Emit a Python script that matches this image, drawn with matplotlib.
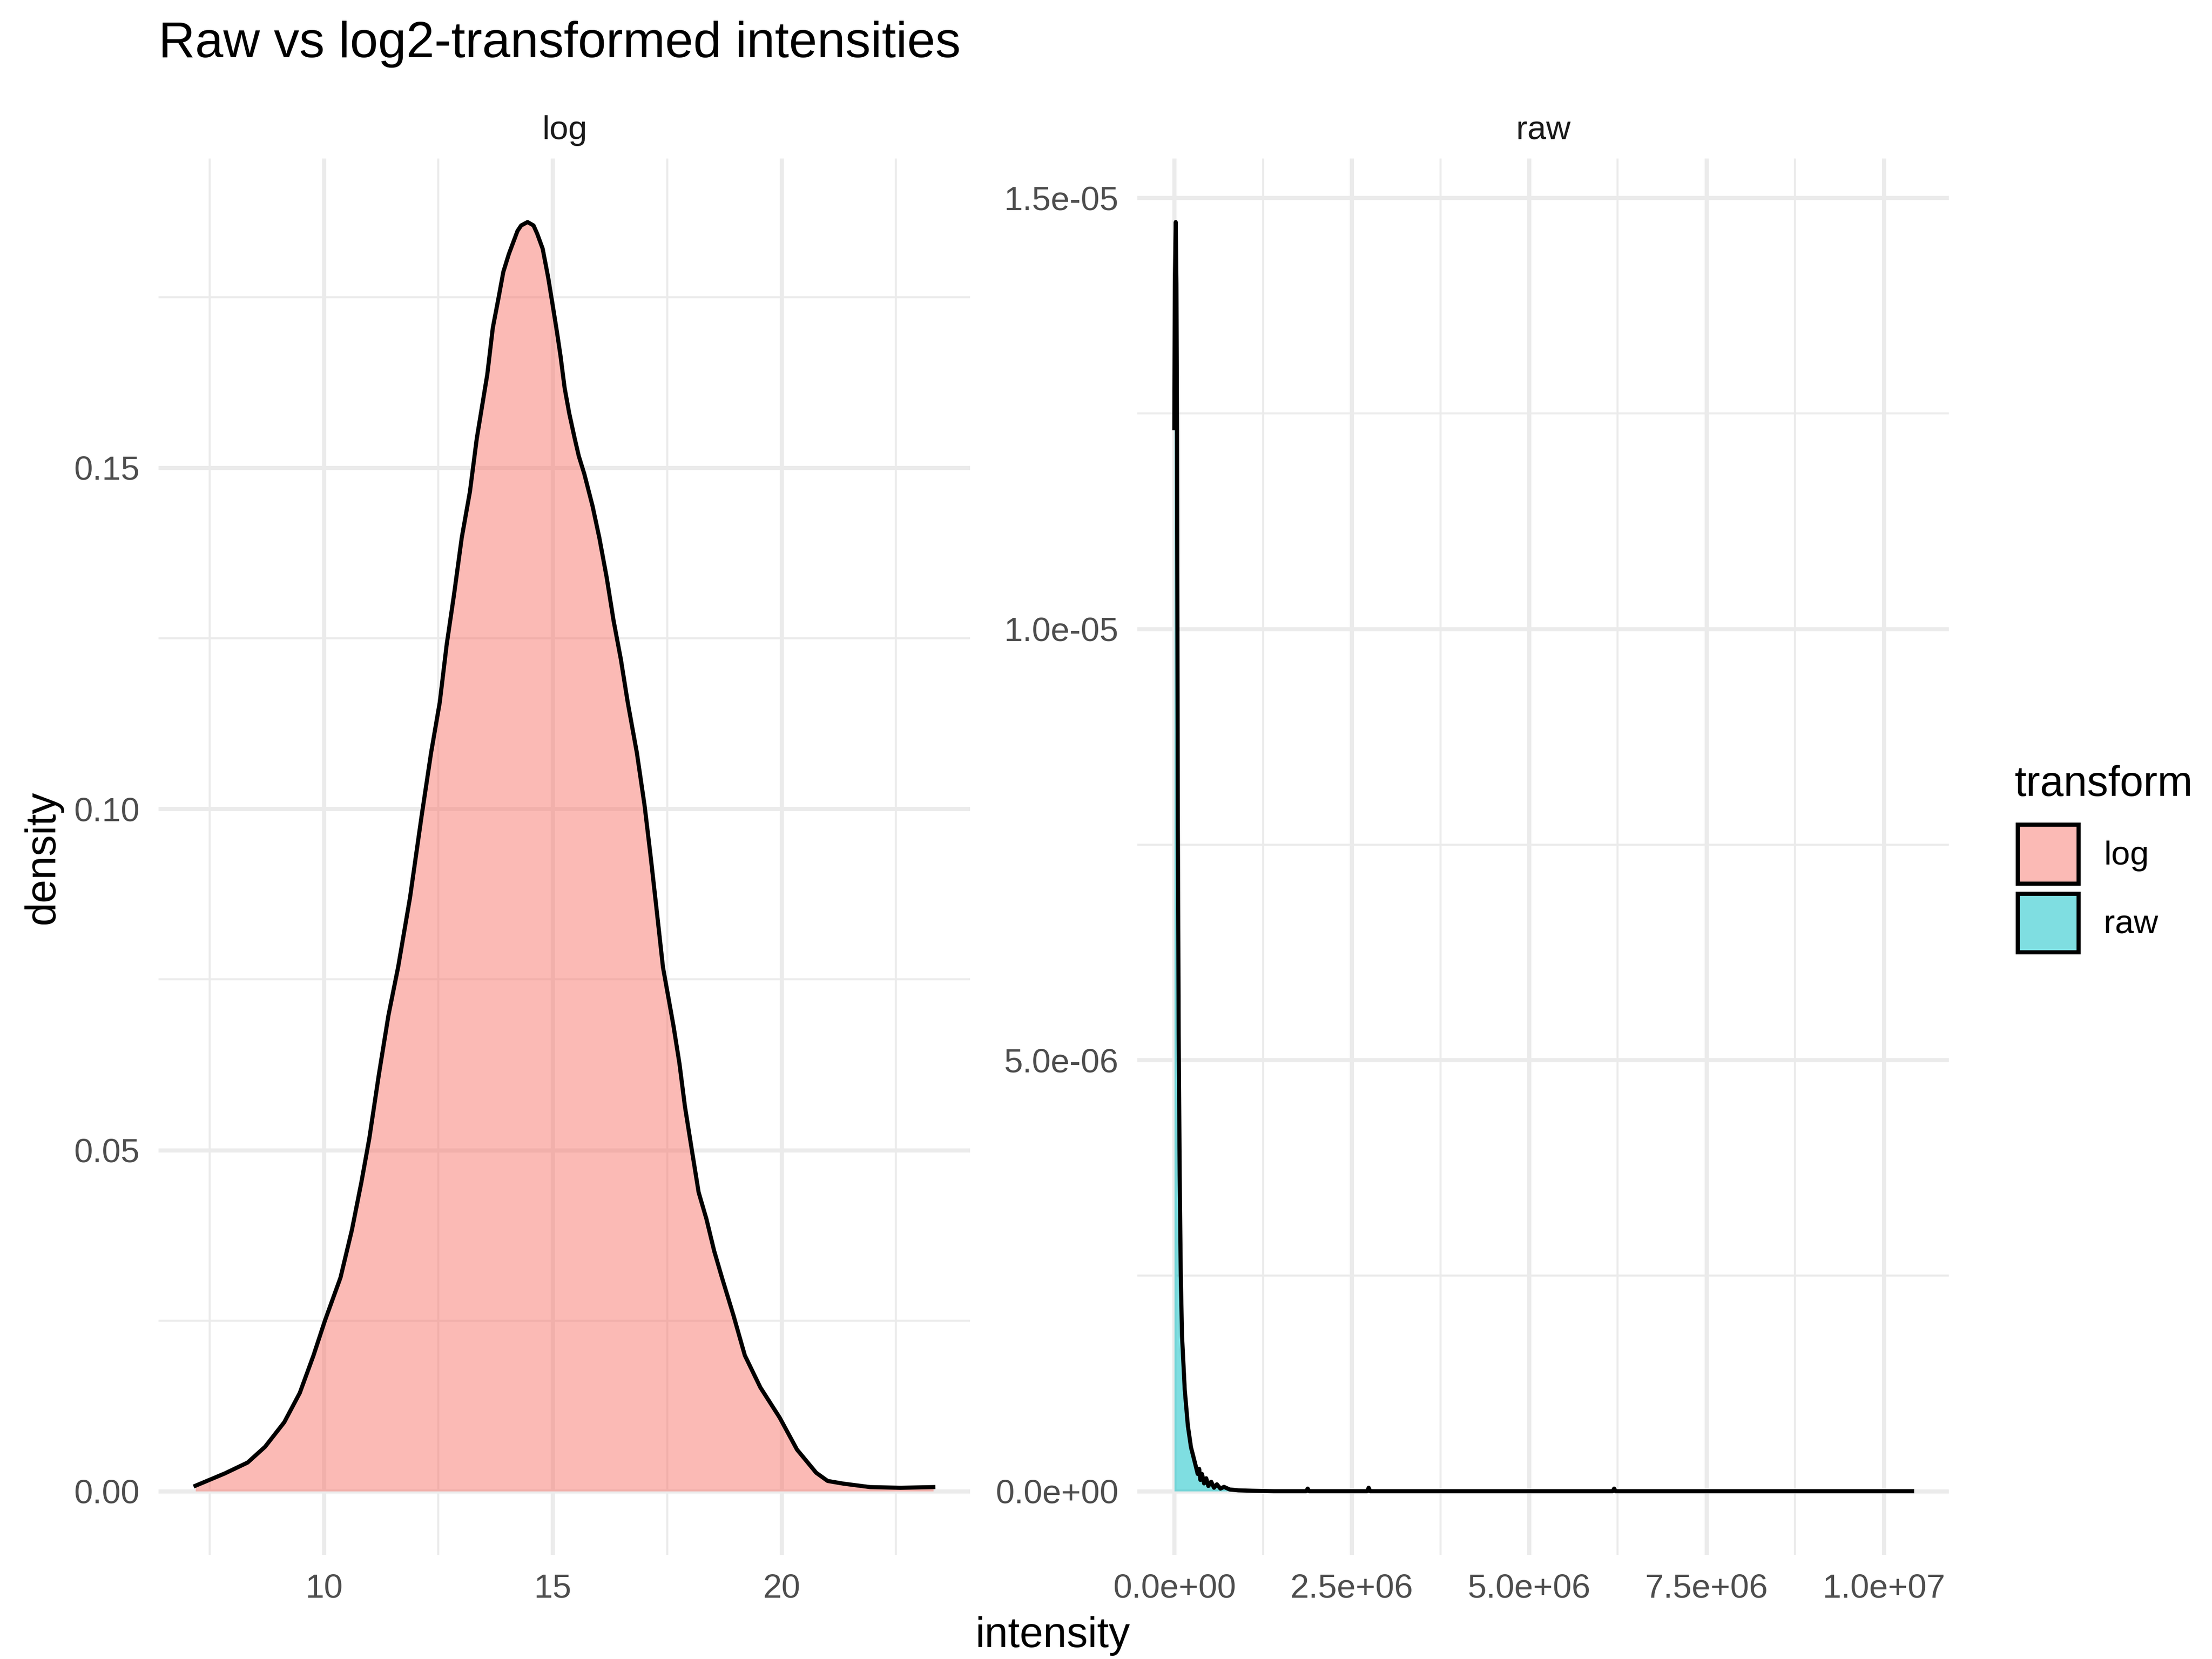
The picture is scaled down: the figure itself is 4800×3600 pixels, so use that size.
import matplotlib
matplotlib.use("Agg")
import matplotlib.pyplot as plt
from matplotlib.patches import Patch
from matplotlib.colors import to_rgba

# density of log2 intensities
log_x = [7.19, 7.83, 8.33, 8.71, 9.13, 9.47, 9.77, 10.02, 10.36, 10.61, 10.82, 10.99,
         11.20, 11.41, 11.62, 11.88, 12.13, 12.34, 12.53, 12.68, 12.84, 13.01, 13.19,
         13.34, 13.57, 13.69, 13.81, 13.92, 14.04, 14.23, 14.31, 14.45, 14.58, 14.66,
         14.78, 14.90, 14.99, 15.09, 15.17, 15.26, 15.36, 15.48, 15.57, 15.69, 15.87,
         16.02, 16.18, 16.33, 16.49, 16.64, 16.84, 17.01, 17.15, 17.28, 17.41, 17.64,
         17.77, 17.89, 18.02, 18.19, 18.36, 18.53, 18.70, 18.95, 19.20, 19.54, 19.96,
         20.34, 20.76, 21.01, 21.36, 21.94, 22.6, 23.32]
log_y = [0.0008, 0.0026, 0.0042, 0.0065, 0.0101, 0.0144, 0.0199, 0.0250, 0.0313, 0.0383,
         0.0454, 0.0517, 0.0611, 0.0698, 0.0768, 0.0870, 0.0988, 0.1082, 0.1156, 0.1240,
         0.1313, 0.1397, 0.1465, 0.1543, 0.1637, 0.1705, 0.1747, 0.1787, 0.1813, 0.1847,
         0.1855, 0.1860, 0.1855, 0.1843, 0.1821, 0.1779, 0.1742, 0.1700, 0.1664, 0.1617,
         0.1580, 0.1543, 0.1517, 0.1491, 0.1444, 0.1397, 0.1339, 0.1276, 0.1219, 0.1156,
         0.1082, 0.1004, 0.0925, 0.0847, 0.0768, 0.0682, 0.0627, 0.0564, 0.0509, 0.0438,
         0.0399, 0.0352, 0.0313, 0.0258, 0.0199, 0.0152, 0.0108, 0.0061, 0.0027, 0.0015,
         0.0011, 0.0006, 0.0005, 0.0006]

# density of raw intensities (right facet)
raw_x = [0, 8000, 20000, 30000, 38000, 44000, 50000, 62000, 76000, 91000, 109000, 147000,
         191000, 235000, 294000, 330000, 350000, 368000, 390000, 420000, 450000, 480000,
         520000, 560000, 600000, 650000, 700000, 780000, 900000, 1100000, 1400000,
         1860000, 1880000, 1900000, 2720000, 2740000, 2760000, 6180000, 6200000, 6220000,
         10400000]
raw_y = [1.233e-5, 1.40e-5, 1.472e-5, 1.40e-5, 1.233e-5, 1.0e-5, 7.7e-6, 5.3e-6, 3.66e-6,
         2.52e-6, 1.8e-6, 1.18e-6, 7.6e-7, 5.1e-7, 3.2e-7, 2.0e-7, 2.6e-7, 1.3e-7, 2.0e-7,
         9e-8, 1.5e-7, 6e-8, 1.1e-7, 4e-8, 8e-8, 3e-8, 5e-8, 2e-8, 1e-8, 5e-9, 0,
         0, 3e-8, 0, 0, 4e-8, 0, 0, 3e-8, 0, 0]

panels = ['log', 'raw']
fills = {'log': '#F8766D', 'raw': '#00BFC4'}

log_xticks = [10, 15, 20]
log_xminor = [7.5, 12.5, 17.5, 22.5]
log_yticks = [0, 0.05, 0.10, 0.15]
log_yminor = [0.025, 0.075, 0.125, 0.175]
raw_xticks = [0, 2.5e6, 5e6, 7.5e6, 1e7]
raw_xminor = [1.25e6, 3.75e6, 6.25e6, 8.75e6]
raw_yticks = [0, 5e-6, 1e-5, 1.5e-5]
raw_yminor = [2.5e-6, 7.5e-6, 1.25e-5]

plt.rcParams['font.family'] = ['Liberation Sans', 'DejaVu Sans']

fig = plt.figure(figsize=(8, 6), dpi=600)
ax1 = fig.add_axes([0.0717, 0.0629, 0.3669, 0.8415])
ax2 = fig.add_axes([0.5142, 0.0629, 0.3669, 0.8415])

def expand(lo, hi, f=0.05):
    r = hi - lo
    return lo - f * r, hi + f * r

data = {'log': (log_x, log_y), 'raw': (raw_x, raw_y)}
ticks = {'log': (log_xticks, log_xminor, log_yticks, log_yminor,
                 lambda v: f'{v:g}', lambda v: f'{v:.2f}'),
         'raw': (raw_xticks, raw_xminor, raw_yticks, raw_yminor,
                 lambda v: f'{v:.1e}', lambda v: f'{v:.1e}')}

for ax, name in zip([ax1, ax2], panels):
    xs, ys = data[name]
    ax.fill_between(xs, ys, 0, color=fills[name], alpha=0.5, lw=0, zorder=2)
    ax.plot(xs, ys, color='black', lw=1.07, zorder=3, solid_joinstyle='round')
    ax.set_xlim(*expand(min(xs), max(xs)))
    ax.set_ylim(*expand(0, max(ys)))
    xt, xm, yt, ym, fx, fy = ticks[name]
    ax.set_xticks(xt)
    ax.set_xticklabels([fx(v) for v in xt])
    ax.set_xticks(xm, minor=True)
    ax.set_yticks(yt)
    ax.set_yticklabels([fy(v) for v in yt])
    ax.set_yticks(ym, minor=True)
    ax.grid(which='major', color='#EBEBEB', lw=1.07)
    ax.grid(which='minor', color='#EBEBEB', lw=0.53)
    ax.set_axisbelow(True)
    ax.tick_params(which='both', length=0, labelsize=8.8, labelcolor='#4D4D4D', pad=4.95)
    for s in ax.spines.values():
        s.set_visible(False)
    ax.set_title(name, fontsize=8.8, color='#1A1A1A', pad=5)

fig.text(0.0717, 1 - 40 / 1161, 'Raw vs log2\u2010transformed intensities',
         fontsize=13.2, ha='left', va='baseline')
fig.text(737 / 1548, 1 - 1145 / 1161, 'intensity', fontsize=11, ha='center', va='center')
fig.text(30 / 1548, 1 - 600 / 1161, 'density', fontsize=11, rotation=90,
         ha='center', va='center')

# legend: title placed separately so its gap to the keys matches
fig.text(1410 / 1548, 1 - 557 / 1161, 'transform', fontsize=11, ha='left', va='baseline')
handles = [Patch(facecolor=to_rgba(fills[n], 0.5), edgecolor='black', lw=1.07, label=n)
           for n in panels]
fig.legend(handles=handles, fontsize=8.8, frameon=False, handlelength=1.8,
           handleheight=2.3, labelspacing=0.3, handletextpad=0.75, borderpad=0,
           borderaxespad=0, loc='upper left', bbox_to_anchor=(1412 / 1548, 1 - 577 / 1161))

fig.savefig('out.png', dpi=600)
